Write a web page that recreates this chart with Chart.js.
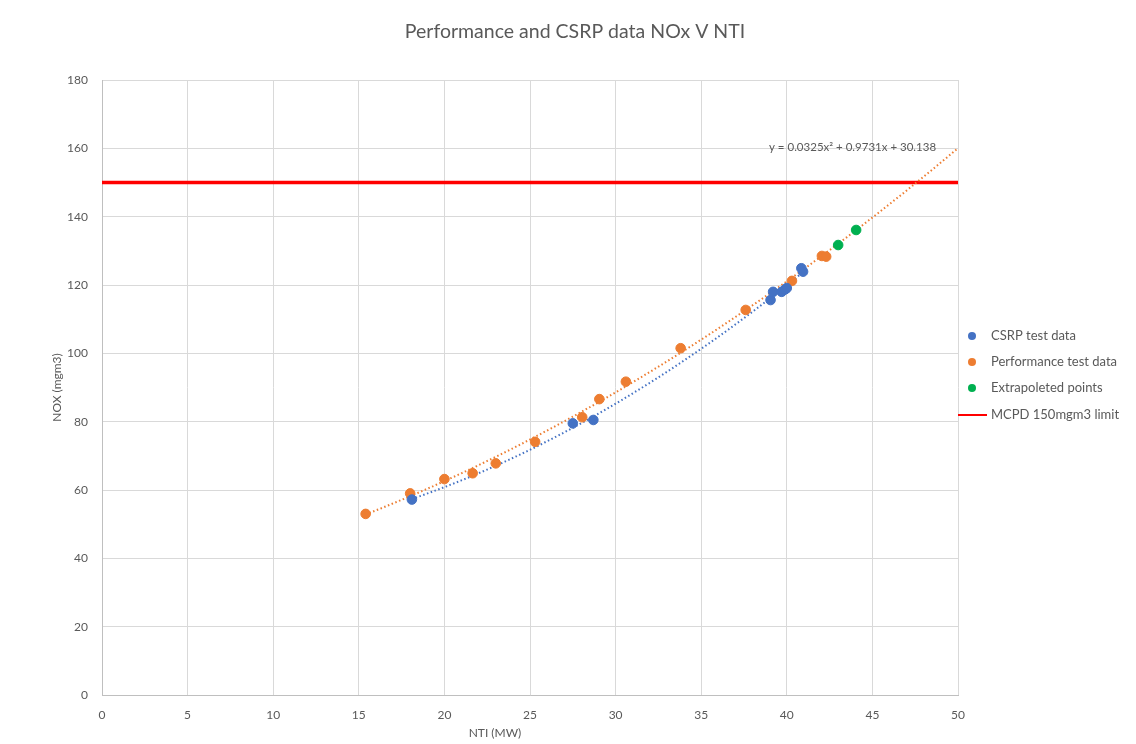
<!DOCTYPE html>
<html>
<head>
<meta charset="utf-8">
<title>Performance and CSRP data NOx V NTI</title>
<script src="https://cdn.jsdelivr.net/npm/chart.js@4.4.1/dist/chart.umd.min.js"></script>
<style>
  html, body { margin: 0; padding: 0; background: #ffffff; }
  #wrap { width: 1136px; height: 744px; position: relative; }
</style>
</head>
<body>
<div id="wrap"><canvas id="chart" width="1136" height="744"></canvas></div>
<script>
// NTI (MW) and NOx (mgm3) readings
const csrpNti  = [18.1, 27.5, 28.7, 39.05, 39.2, 39.7, 39.9, 40.0, 40.85, 40.95];
const csrpNox  = [57.2, 79.5, 80.5, 115.6, 118.0, 118.0, 118.7, 119.1, 124.9, 123.9];

const perfNti  = [15.4, 18.0, 20.0, 21.65, 23.0, 25.3, 28.05, 29.05, 30.6, 33.8, 37.6, 40.3, 42.05, 42.3];
const perfNox  = [53.0, 59.0, 63.2, 64.9, 67.8, 74.1, 81.3, 86.6, 91.7, 101.5, 112.7, 121.2, 128.5, 128.3];

const extraNti = [43.0, 44.05];
const extraNox = [131.7, 136.1];

// MCPD emission limit
const limitNox = 150;
const limitNti = [0, 50];

// Polynomial trendline of the performance data: a*x^2 + b*x + c
const perfTrendCoef = [0.0325, 0.9731, 30.138];
const perfTrendRange = [15.4, 50];

const xTicks = { min: 0, max: 50, step: 5 };
const yTicks = { min: 0, max: 180, step: 20 };

const chartTitle = 'Performance and CSRP data NOx V NTI';
const legendLabels = ['CSRP test data', 'Performance test data', 'Extrapoleted points', 'MCPD 150mgm3 limit'];
const equationLabel = 'y = 0.0325x\u00B2 + 0.9731x + 30.138';

const BLUE = '#4472C4', ORANGE = '#ED7D31', GREEN = '#00B050', RED = '#FF0000';
const TEXT = '#595959';
const FONT = 'Lato, "Open Sans", "Liberation Sans", sans-serif';

function toPoints(xs, ys) { return xs.map((x, i) => ({ x: x, y: ys[i] })); }

// least-squares quadratic fit (Excel-style polynomial trendline)
function quadFit(xs, ys) {
  let s = [0, 0, 0, 0, 0], t = [0, 0, 0];
  xs.forEach((x, i) => {
    for (let k = 0; k < 5; k++) s[k] += Math.pow(x, k);
    for (let k = 0; k < 3; k++) t[k] += ys[i] * Math.pow(x, k);
  });
  const M = [[s[0], s[1], s[2], t[0]], [s[1], s[2], s[3], t[1]], [s[2], s[3], s[4], t[2]]];
  for (let i = 0; i < 3; i++) {
    for (let j = i + 1; j < 3; j++) {
      const f = M[j][i] / M[i][i];
      for (let k = i; k < 4; k++) M[j][k] -= f * M[i][k];
    }
  }
  const r = [0, 0, 0];
  for (let i = 2; i >= 0; i--) {
    let v = M[i][3];
    for (let k = i + 1; k < 3; k++) v -= M[i][k] * r[k];
    r[i] = v / M[i][i];
  }
  return [r[2], r[1], r[0]]; // a, b, c
}

function curve(coef, x0, x1) {
  const pts = [];
  const n = 80;
  for (let i = 0; i <= n; i++) {
    const x = x0 + (x1 - x0) * i / n;
    pts.push({ x: x, y: coef[0] * x * x + coef[1] * x + coef[2] });
  }
  return pts;
}

const csrpTrendCoef = quadFit(csrpNti, csrpNox);
const csrpTrend = curve(csrpTrendCoef, Math.min(...csrpNti), Math.max(...csrpNti));
const perfTrend = curve(perfTrendCoef, perfTrendRange[0], perfTrendRange[1]);

// title, legend, trendline equation and x-axis title
const annotations = {
  id: 'annotations',
  afterDraw(chart) {
    const ctx = chart.ctx;
    ctx.save();
    ctx.textBaseline = 'middle';

    // title
    ctx.font = '19.5px ' + FONT;
    ctx.fillStyle = TEXT;
    ctx.textAlign = 'center';
    ctx.fillText(chartTitle, 575, 32);

    // equation
    ctx.font = '11.5px ' + FONT;
    ctx.textAlign = 'left';
    ctx.fillText(equationLabel, 769, 147);

    // x-axis title
    ctx.font = '12px ' + FONT;
    ctx.textAlign = 'center';
    ctx.fillText('NTI (MW)', 495, 733);

    // legend
    const colors = [BLUE, ORANGE, GREEN, RED];
    const rows = [336, 362, 388, 415];
    ctx.font = '13px ' + FONT;
    ctx.textAlign = 'left';
    legendLabels.forEach((lab, i) => {
      const y = rows[i];
      if (i < 3) {
        ctx.fillStyle = colors[i];
        ctx.beginPath();
        ctx.arc(972, y, 4, 0, Math.PI * 2);
        ctx.fill();
      } else {
        ctx.strokeStyle = RED;
        ctx.lineWidth = 2;
        ctx.beginPath();
        ctx.moveTo(958, y);
        ctx.lineTo(987, y);
        ctx.stroke();
      }
      ctx.fillStyle = TEXT;
      ctx.fillText(lab, 991, y);
    });
    ctx.restore();
  }
};

const whiteBg = {
  id: 'whiteBg',
  beforeDraw(chart) {
    const ctx = chart.ctx;
    ctx.save();
    ctx.fillStyle = '#ffffff';
    ctx.fillRect(0, 0, chart.width, chart.height);
    ctx.restore();
  }
};

new Chart(document.getElementById('chart'), {
  type: 'scatter',
  data: {
    datasets: [
      {
        label: legendLabels[3],
        data: toPoints(limitNti, [limitNox, limitNox]),
        showLine: true, borderColor: RED, borderWidth: 3.5,
        pointRadius: 0, order: 5
      },
      {
        label: 'CSRP trend',
        data: csrpTrend,
        showLine: true, borderColor: BLUE, borderWidth: 2, borderDash: [1.5, 2.5],
        pointRadius: 0, order: 4
      },
      {
        label: 'Performance trend',
        data: perfTrend,
        showLine: true, borderColor: ORANGE, borderWidth: 2, borderDash: [1.5, 2.5],
        pointRadius: 0, order: 3
      },
      {
        label: legendLabels[0],
        data: toPoints(csrpNti, csrpNox),
        backgroundColor: BLUE, borderColor: BLUE, pointRadius: 4.8, order: 1
      },
      {
        label: legendLabels[1],
        data: toPoints(perfNti, perfNox),
        backgroundColor: ORANGE, borderColor: ORANGE, pointRadius: 4.8, order: 2
      },
      {
        label: legendLabels[2],
        data: toPoints(extraNti, extraNox),
        backgroundColor: GREEN, borderColor: GREEN, pointRadius: 4.8, order: 0
      }
    ]
  },
  options: {
    responsive: false,
    animation: false,
    layout: { padding: { top: 80, left: 50, right: 178, bottom: 0 } },
    plugins: {
      legend: { display: false },
      tooltip: { enabled: false },
      title: { display: false }
    },
    scales: {
      x: {
        type: 'linear',
        min: xTicks.min, max: xTicks.max,
        ticks: { stepSize: xTicks.step, color: TEXT, font: { family: FONT, size: 12 }, padding: 13 },
        grid: { color: '#d9d9d9', drawTicks: false },
        border: { color: '#bfbfbf' },
        afterFit(scale) { scale.height = 49; }
      },
      y: {
        type: 'linear',
        min: yTicks.min, max: yTicks.max,
        ticks: { stepSize: yTicks.step, color: TEXT, font: { family: FONT, size: 12 }, padding: 14 },
        grid: { color: '#d9d9d9', drawTicks: false },
        border: { color: '#bfbfbf' },
        title: { display: true, text: 'NOX (mgm3)', color: TEXT, font: { family: FONT, size: 12 }, padding: { top: 0, bottom: 0 } },
        afterFit(scale) { scale.width = 52; }
      }
    }
  },
  plugins: [whiteBg, annotations]
});
</script>
</body>
</html>
